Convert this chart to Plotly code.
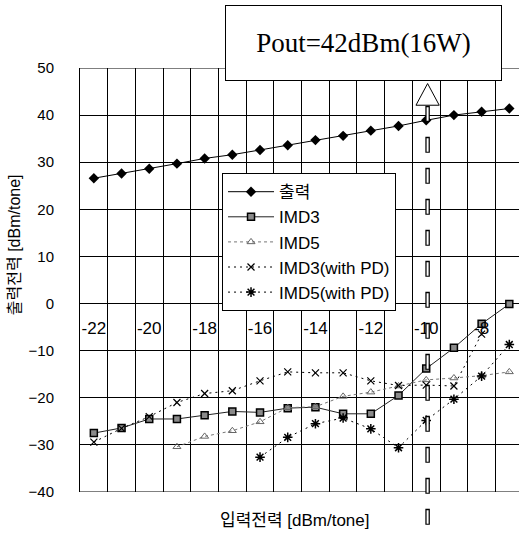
import plotly.graph_objects as go

# ---------------- data ----------------
input_power = [-22, -21, -20, -19, -18, -17, -16, -15, -14, -13, -12, -11, -10, -9, -8, -7]
x_tick_vals = [-22, -20, -18, -16, -14, -12, -10, -8]
x_tick_text = ["-22", "-20", "-18", "-16", "-14", "-12", "-10", "-8"]

output_power = [26.6, 27.6, 28.6, 29.7, 30.8, 31.6, 32.6, 33.6, 34.7, 35.6, 36.7, 37.7, 38.9, 40.0, 40.7, 41.4]
imd3 = [-27.5, -26.4, -24.5, -24.5, -23.7, -22.9, -23.1, -22.2, -22.0, -23.4, -23.4, -19.5, -13.8, -9.4, -4.3, -0.1]
imd5 = [None, None, None, -30.4, -28.2, -27.0, -25.1, -22.1, -21.9, -19.7, -18.8, -17.5, -16.2, -15.8, -15.3, -14.5]
imd3_pd = [-29.4, -26.5, -24.0, -21.0, -19.1, -18.5, -16.4, -14.5, -14.7, -14.7, -16.4, -17.4, -17.3, -17.5, -6.5, None]
imd5_pd = [None, None, None, None, None, None, -32.6, -28.4, -25.5, -24.3, -26.6, -30.6, -24.8, -20.3, -15.4, -8.7]

names = ["출력", "IMD3", "IMD5", "IMD3(with PD)", "IMD5(with PD)"]
annotation_text = "Pout=42dBm(16W)"
arrow_x = -9.95
y_min, y_max = -40, 50

FONT = "Liberation Sans, Arial, Noto Sans CJK KR, sans-serif"

fig = go.Figure()

fig.add_trace(go.Scatter(
    x=input_power, y=output_power, name=names[0], mode="lines+markers",
    line=dict(color="black", width=1),
    marker=dict(symbol="diamond", size=8, color="black"),
    legendgroup="a"))
fig.add_trace(go.Scatter(
    x=input_power, y=imd3, name=names[1], mode="lines+markers",
    line=dict(color="#222", width=1),
    marker=dict(symbol="square", size=7, color="#8a8a8a", line=dict(color="black", width=1.5)),
    legendgroup="b"))
fig.add_trace(go.Scatter(
    x=input_power, y=imd5, name=names[2], mode="lines+markers",
    line=dict(color="#777", width=1, dash="dot"),
    marker=dict(symbol="triangle-up-open", size=7, color="#666", line=dict(width=1)),
    legendgroup="c"))
fig.add_trace(go.Scatter(
    x=input_power, y=imd3_pd, name=names[3], mode="lines+markers",
    line=dict(color="black", width=1, dash="2px,4px"),
    marker=dict(symbol="x-thin-open", size=7, color="black", line=dict(width=1.2, color="black")),
    legendgroup="d"))
fig.add_trace(go.Scatter(
    x=input_power, y=imd5_pd, name=names[4], mode="lines+markers",
    line=dict(color="black", width=1, dash="2px,4px"),
    marker=dict(symbol="asterisk-open", size=8, color="black", line=dict(width=1.5, color="black")),
    legendgroup="e"))

minor_vals = [c - 0.5 for c in input_power] + [input_power[-1] + 0.5]

fig.update_layout(
    width=519, height=535,
    margin=dict(l=80, r=0, t=68, b=43),
    paper_bgcolor="white", plot_bgcolor="white",
    font=dict(family=FONT, color="black", size=14),
    showlegend=True,
    legend=dict(
        x=0.3235, y=0.752, xanchor="left", yanchor="top",
        bgcolor="white", bordercolor="black", borderwidth=1,
        font=dict(size=17, family=FONT), tracegroupgap=0, itemwidth=46,
    ),
    xaxis=dict(
        range=[-22.5, -6.65], tickmode="array", tickvals=x_tick_vals, ticktext=x_tick_text,
        showgrid=False, zeroline=False, showline=False, ticks="",
        anchor="free", position=40 / 90, ticklabelstandoff=12,
        tickfont=dict(size=17, family=FONT),
        minor=dict(tickmode="array", tickvals=minor_vals, showgrid=True,
                   gridcolor="black", gridwidth=1, ticks=""),
    ),
    yaxis=dict(
        range=[y_min, y_max], dtick=10, tick0=0, showgrid=True, gridcolor="black", gridwidth=1,
        zeroline=False, showline=True, linecolor="black", linewidth=1,
        ticks="", ticklabelstandoff=22,
        tickfont=dict(size=15, family=FONT),
    ),
)

# top and bottom frame lines (gridlines at the range ends)
for yv in (y_min, y_max):
    fig.add_shape(type="line", xref="paper", yref="y", x0=0, x1=1, y0=yv, y1=yv,
                  line=dict(color="black", width=1), layer="below")

# axis titles
fig.add_annotation(text="출력전력 [dBm/tone]", xref="paper", yref="paper",
                   x=-0.150, y=0.5825, xanchor="center", yanchor="middle",
                   textangle=-90, showarrow=False,
                   font=dict(size=16, family=FONT))
fig.add_annotation(text="입력전력 [dBm/tone]", xref="paper", yref="paper",
                   x=0.49, y=-0.068, xanchor="center", yanchor="middle", showarrow=False,
                   font=dict(size=17, family=FONT))

# Pout box
fig.add_annotation(text=annotation_text, xref="paper", yref="paper",
                   x=0.645, y=1.059, xanchor="center", yanchor="middle", showarrow=False,
                   width=275, height=74, borderpad=0,
                   bgcolor="white", bordercolor="black", borderwidth=1,
                   font=dict(size=27, family="Liberation Serif, Times New Roman, serif"))

# arrow shaft (outlined dashes)
fig.add_shape(type="line", xref="x", yref="paper", x0=arrow_x, x1=arrow_x,
              y0=0.9111, y1=-0.08, line=dict(color="black", width=4.5, dash="16px,15px"),
              layer="above")
fig.add_shape(type="line", xref="x", yref="paper", x0=arrow_x, x1=arrow_x,
              y0=0.9076, y1=-0.08, line=dict(color="white", width=2, dash="13.5px,17.5px"),
              layer="above")
# arrow head
fig.add_shape(type="path", xref="x", yref="y",
              path=f"M {arrow_x-0.42},42.1 L {arrow_x},46.7 L {arrow_x+0.42},42.1 Z",
              fillcolor="white", line=dict(color="black", width=1), layer="above")

fig.write_html("out.html", config={"displayModeBar": False},
               post_script="document.body.style.margin='0';document.body.style.overflow='hidden';")
